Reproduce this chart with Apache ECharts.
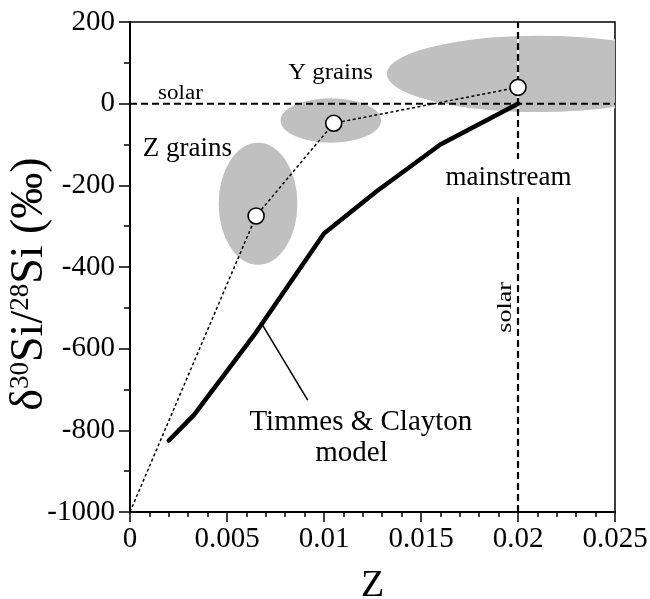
<!DOCTYPE html>
<html>
<head>
<meta charset="utf-8">
<script src="https://cdn.jsdelivr.net/npm/echarts@6/dist/echarts.min.js"></script>
<style>
  html, body { margin: 0; padding: 0; background: #fff; }
  #chart { width: 650px; height: 599px; }
</style>
</head>
<body>
<div id="chart"></div>
<script>
const SERIF = "'Liberation Serif', 'Times New Roman', Times, serif";

// Axis ranges, major and minor tick spacing
const zMin = 0, zMax = 0.025, zStep = 0.005, zMinorStep = 0.001;
const dMin = -1000, dMax = 200, dStep = 200, dMinorStep = 100;

// Timmes & Clayton galactic chemical evolution model
const modelZ     = [0.002, 0.0033, 0.0065, 0.010, 0.0127, 0.016, 0.020];
const modelDelta = [-825,  -762,   -560,   -318,  -215,   -100,  0];

// Dotted trend through the grain-group averages, starting at Z = 0
const trendZ     = [0,     0.0065, 0.0105, 0.020];
const trendDelta = [-1000, -275,   -48,    40];

// Average of each grain population (open circles)
const grainZ     = [0.0065, 0.0105, 0.020];
const grainDelta = [-275,   -48,    40];

// Spread of each grain population: centre and half-widths (shaded ellipses)
const spreadZ         = [0.0066,  0.01035, 0.0211];
const spreadDelta     = [-245,    -41,     73];
const spreadHalfZ     = [0.00206, 0.00262, 0.0079];
const spreadHalfDelta = [151,     56,      95];

// Solar reference values
const solarZ = 0.02;
const solarDelta = 0;

// Leader from the model curve to its caption
const leaderZ     = [0.0068, 0.00916];
const leaderDelta = [-540,   -726];

// Text annotations placed in data coordinates
const notes = [
  { text: 'solar',            z: 0.0026,  d: 25,   size: 20, sx: 1.15 },
  { text: 'Y grains',         z: 0.01034, d: 75,   size: 23, sx: 1.08 },
  { text: 'Z grains',         z: 0.00296, d: -110, size: 27, sx: 1.0 },
  { text: 'mainstream',       z: 0.01951, d: -182, size: 27, sx: 1.0, bg: true },
  { text: 'solar',            z: 0.01937, d: -499, size: 20, sx: 1.3, rot: Math.PI / 2 },
  { text: 'Timmes & Clayton', z: 0.0119,  d: -780, size: 29, sx: 1.0 },
  { text: 'model',            z: 0.01142, d: -857, size: 29, sx: 1.0 }
];

const pairs = (xs, ys) => xs.map((x, i) => [x, ys[i]]);
const plain = v => String(v);

const chart = echarts.init(document.getElementById('chart'), null, { renderer: 'canvas' });

const axisLineStyle = { color: '#000', width: 2 };
const tickStyle = { color: '#000', width: 1.5 };

chart.setOption({
  animation: false,
  backgroundColor: '#fff',
  grid: {
    left: 130, right: 35, top: 22, bottom: 87,
    containLabel: false,
    outerBoundsMode: 'none',
    show: true, borderColor: '#000', borderWidth: 1.5, backgroundColor: 'transparent'
  },
  xAxis: [
    {
      type: 'value',
      min: zMin, max: zMax, interval: zStep,
      name: 'Z',
      nameLocation: 'middle',
      nameGap: 55,
      nameMoveOverlap: false,
      nameTextStyle: { fontFamily: SERIF, fontSize: 38, color: '#000' },
      axisLine: { show: true, onZero: false, lineStyle: axisLineStyle },
      axisTick: { show: true, inside: false, length: 10, lineStyle: tickStyle },
      axisLabel: { fontFamily: SERIF, fontSize: 29, color: '#000', margin: 13, formatter: plain },
      splitLine: { show: false }
    },
    {
      // minor ticks
      type: 'value', position: 'bottom',
      min: zMin, max: zMax, interval: zMinorStep,
      axisLine: { show: false, onZero: false },
      axisTick: { show: true, inside: false, length: 5, lineStyle: tickStyle },
      axisLabel: { show: false },
      splitLine: { show: false }
    }
  ],
  yAxis: [
    {
      type: 'value',
      min: dMin, max: dMax, interval: dStep,
      name: '{d|δ}{s|30}{d|Si/}{s|28}{d|Si (‰)}',
      nameLocation: 'middle',
      nameRotate: 90,
      nameGap: 77,
      nameMoveOverlap: false,
      nameTextStyle: {
        fontFamily: SERIF, color: '#000',
        padding: [0, 34, 0, 0],
        rich: {
          d: { fontFamily: SERIF, fontSize: 46, color: '#000' },
          s: { fontFamily: SERIF, fontSize: 27, color: '#000', verticalAlign: 'top' }
        }
      },
      axisLine: { show: true, onZero: false, lineStyle: axisLineStyle },
      axisTick: { show: true, inside: false, length: 11, lineStyle: tickStyle },
      axisLabel: { fontFamily: SERIF, fontSize: 29, color: '#000', margin: 15, formatter: plain },
      splitLine: { show: false }
    },
    {
      // minor ticks
      type: 'value', position: 'left',
      min: dMin, max: dMax, interval: dMinorStep,
      axisLine: { show: false, onZero: false },
      axisTick: { show: true, inside: false, length: 6, lineStyle: tickStyle },
      axisLabel: { show: false },
      splitLine: { show: false }
    }
  ],
  series: [
    {
      // shaded spread of each grain population
      type: 'custom',
      name: 'spread',
      clip: true,
      z: 1,
      data: spreadZ.map((z, i) => [z, spreadDelta[i], spreadHalfZ[i], spreadHalfDelta[i]]),
      encode: { x: 0, y: 1 },
      renderItem: (params, api) => {
        const c = api.coord([api.value(0), api.value(1)]);
        const s = api.size([api.value(2), api.value(3)]);
        const cs = params.coordSys;
        return {
          type: 'group',
          clipPath: { type: 'rect', shape: { x: cs.x, y: cs.y, width: cs.width, height: cs.height } },
          children: [{
            type: 'ellipse',
            shape: { cx: c[0], cy: c[1], rx: s[0], ry: s[1] },
            style: { fill: '#c0c0c0', stroke: '#ffffff', lineWidth: 1.2 }
          }]
        };
      }
    },
    {
      // pale core under the solar-Z guide
      type: 'line', z: 2, silent: true, showSymbol: false,
      data: [[solarZ, dMin], [solarZ, dMax]],
      lineStyle: { color: '#ffffff', width: 1.5 }
    },
    {
      // solar metallicity guide
      type: 'line', z: 3, silent: true, showSymbol: false,
      data: [[solarZ, dMin], [solarZ, dMax]],
      lineStyle: { color: '#000', width: 2.2, type: [7, 4] }
    },
    {
      // solar isotope ratio guide
      type: 'line', z: 3, silent: true, showSymbol: false,
      data: [[zMin, solarDelta], [zMax, solarDelta]],
      lineStyle: { color: '#000', width: 2, type: [7, 4] }
    },
    {
      type: 'line', name: 'trend', z: 4, silent: true, showSymbol: false,
      data: pairs(trendZ, trendDelta),
      lineStyle: { color: '#000', width: 1.5, type: [3, 2.5] }
    },
    {
      type: 'line', name: 'Timmes & Clayton model', z: 5, silent: true, showSymbol: false,
      data: pairs(modelZ, modelDelta),
      lineStyle: { color: '#000', width: 4.5, join: 'round', cap: 'round' }
    },
    {
      type: 'line', z: 5, silent: true, showSymbol: false,
      data: pairs(leaderZ, leaderDelta),
      lineStyle: { color: '#000', width: 1.5 }
    },
    {
      type: 'scatter', name: 'grain averages', z: 6, silent: true,
      data: pairs(grainZ, grainDelta),
      symbol: 'circle', symbolSize: 16,
      itemStyle: { color: '#ffffff', borderColor: '#000', borderWidth: 1.6, opacity: 1 }
    },
    {
      // captions
      type: 'custom', z: 7, silent: true, clip: false,
      data: notes.map(n => [n.z, n.d]),
      encode: { x: 0, y: 1 },
      renderItem: (params, api) => {
        const n = notes[params.dataIndex];
        const p = api.coord([api.value(0), api.value(1)]);
        const style = {
          text: n.text, x: 0, y: 0,
          fill: '#000',
          fontFamily: SERIF, fontSize: n.size,
          align: 'center', verticalAlign: 'middle'
        };
        if (n.bg) {
          style.backgroundColor = '#ffffff';
          style.padding = [4, 4, 7, 4];
        }
        return {
          type: 'text',
          x: p[0], y: p[1],
          rotation: n.rot || 0,
          scaleX: n.sx || 1,
          style
        };
      }
    }
  ]
});
</script>
</body>
</html>
